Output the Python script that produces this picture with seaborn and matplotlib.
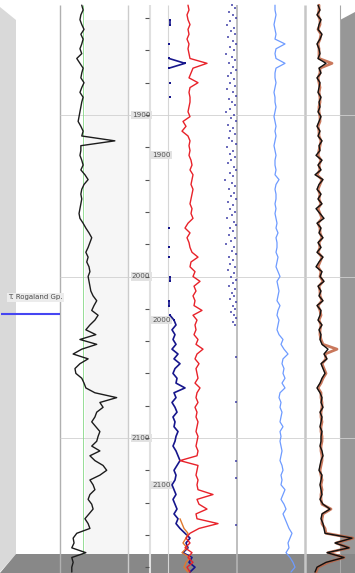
import numpy as np
import pandas as pd
import matplotlib
matplotlib.use("Agg")
import matplotlib.pyplot as plt
from matplotlib.patches import Polygon, Rectangle
import seaborn as sns

sns.set_style("white")
plt.rcParams["font.family"] = ["Liberation Sans Narrow", "DejaVu Sans"]

# ---------------- data ----------------
DEPTH = np.arange(1832, 2184, 3)          # measured depth (m)

GR = [48, 51, 46, 44, 48, 53, 46, 51, 48, 44,
      48, 37, 44, 51, 48, 46, 53, 48, 44, 51,
      48, 46, 44, 42, 40, 46, 51, 48, 121, 46,
      46, 44, 48, 51, 46, 55, 62, 53, 48, 46,
      48, 46, 44, 42, 44, 51, 57, 64, 70, 66,
      62, 57, 62, 59, 64, 66, 62, 64, 66, 68,
      73, 81, 75, 70, 84, 77, 66, 57, 79, 44,
      81, 48, 29, 62, 44, 33, 35, 48, 53, 57,
      77, 125, 88, 95, 81, 77, 70, 79, 88, 84,
      81, 70, 88, 66, 77, 95, 103, 88, 66, 73,
      77, 66, 62, 70, 73, 64, 55, 62, 66, 37,
      29, 31, 26, 57, 26, 29, 26, 26]
GR_BASE = 50

nan = np.nan
NEU = [nan, nan, nan, .10, .10, nan, nan, nan, .09, nan,
       nan, .09, .25, .09, nan, nan, .10, nan, nan, .10,
       nan, nan, nan, nan, nan, nan, nan, nan, nan, nan,
       nan, nan, nan, nan, nan, nan, nan, nan, nan, nan,
       nan, nan, nan, nan, nan, nan, .09, nan, nan, nan,
       .09, nan, .09, nan, nan, nan, .10, .10, nan, nan,
       nan, .09, .09, nan, .10, .14, .16, .12, .15, .13,
       .16, .12, .18, .14, .20, .15, .13, .17, .16, .25,
       .14, .16, .12, .15, .17, .13, .15, .14, .18, .16,
       .15, .13, .16, .18, .20, .17, .14, .16, .15, .12,
       .14, .16, .13, .15, .17, .14, .18, .16, .20, .25,
       .30, .26, .28, .23, .32, .29, .35, .30]

PEF_DEPTH = DEPTH[106:]
PEF = [.20, .22, .24, .28, .26, .23, .27, .22, .30, .26, .24, .28]

DTC = [56, 58, 54, 56, 60, 56, 58, 54, 58, 56,
       58, 60, 94, 66, 62, 58, 76, 60, 58, 60,
       60, 58, 56, 60, 46, 52, 44, 56, 60, 58,
       60, 58, 62, 64, 60, 66, 64, 62, 66, 64,
       62, 60, 64, 62, 66, 56, 50, 60, 54, 58,
       60, 64, 76, 62, 60, 70, 66, 80, 68, 72,
       66, 70, 68, 84, 66, 74, 70, 72, 68, 76,
       72, 86, 74, 70, 78, 72, 74, 76, 70, 80,
       74, 72, 76, 70, 74, 72, 76, 74, 72, 76,
       74, 72, 76, 74, 40, 76, 74, 72, 76, 74,
       76, 106, 74, 78, 94, 72, 74, 116, 78, 60,
       52, 60, 50, 64, 56, 66, 54, 60]

DTS_DEPTH = np.arange(1832, 2032, 2)
DTS = [.72, .75, .69, .73, .76, .70, .67, .74, .71, .75,
       .68, .73, .76, .70, .74, .66, .72, .75, .69, .73,
       .76, .71, .68, .74, .70, .75, .67, .73, .76, .69,
       .72, .75, .70, .66, .74, .71, .76, .68, .73, .70,
       .75, .69, .72, .76, .67, .73, .70, .75, .71, .68,
       .74, .76, .70, .73, .65, .72, .75, .69, .74, .71,
       .76, .68, .73, .70, .75, .72, .67, .74, .76, .70,
       .73, .69, .75, .71, .66, .74, .72, .76, .69, .73,
       .70, .75, .68, .74, .71, .76, .73, .69, .75, .72,
       .74, .70, .76, .73, .75, .71, .74, .76, .73, .75]
DTS_LOW_DEPTH = [2050, 2078, 2114, 2125, 2154]
DTS_LOW = [.76, .76, .76, .76, .76]

CALI = [9.5, 9.5, 9.75, 9.5, 9.25, 9.5, 9.75, 9.5, 12, 9.75,
        9.5, 9.75, 12, 9.75, 9.5, 9.5, 9.75, 9.5, 9.25, 9.5,
        9.5, 9.75, 9.5, 9.25, 9.5, 9.75, 9.5, 9.75, 9.5, 9.25,
        9.5, 9.75, 9.5, 9.5, 9.75, 9.5, 10.5, 9.75, 9.5, 9.75,
        9.75, 9.5, 9.75, 9.5, 9.75, 10, 9.75, 10.25, 9.75, 10,
        10, 9.75, 10.25, 10, 9.75, 10.25, 10.75, 10, 10.25, 10.5,
        10.25, 10, 10.75, 10.25, 10, 10.5, 10.25, 10, 10.5, 11.5,
        11, 11.75, 12.75, 11.5, 11.25, 11.75, 11.5, 12, 11.25, 12,
        10.75, 10.5, 11, 10.75, 11.25, 11, 10.75, 11.5, 10.75, 11,
        10.75, 11, 11.25, 11, 10.75, 11.25, 11.5, 11, 11.25, 11,
        12, 11.5, 11, 11.75, 12.25, 11.5, 12, 12.5, 13, 13.75,
        13.25, 12.75, 13, 12.25, 13.25, 14, 14.5, 13.5]

RDEEP = [6.5, 7.5, 6, 8, 7, 6.5, 8.5, 7.5, 6, 7,
         7.5, 6.5, 10.5, 7, 8, 6, 7.5, 7, 6.5, 8,
         7, 7.5, 6.5, 8, 7, 6, 7.5, 6.5, 8.5, 7,
         7.5, 5.5, 8.5, 6.5, 8, 5, 9, 7, 6, 8,
         6.5, 8.5, 5.5, 7.5, 9.5, 6, 8, 7, 9, 6.5,
         8, 6, 9, 7, 5.5, 8.5, 7.5, 9.5, 6.5, 8,
         7, 9, 6, 8, 7.5, 6.5, 8.5, 7, 8, 7.5,
         8.5, 11.5, 9.5, 11, 8, 9, 10, 8.5, 7.5, 6,
         7.5, 8.5, 8, 9, 7.5, 8.5, 8, 7.5, 8.5, 8,
         8, 7.5, 8.5, 9, 8, 7.5, 7, 8.5, 8, 7.5,
         8, 8.5, 7.5, 9, 12.5, 8.5, 8, 9, 9.5, 10,
         23.5, 15, 22, 11, 19.5, 10.5, 6, 5]

RMED = [7, 7, 6.5, 7.5, 7.5, 6.5, 8, 7.5, 6.5, 7,
        7, 7, 13.5, 7.5, 7.5, 6.5, 7, 7.5, 7, 7.5,
        7.5, 7, 7, 7.5, 7.5, 6.5, 7, 7, 8, 7.5,
        7, 6.5, 8, 7, 7.5, 6, 8.5, 7.5, 6.5, 7.5,
        7, 8, 6.5, 7.5, 8.5, 6.5, 7.5, 7.5, 8.5, 7,
        7.5, 6.5, 8.5, 7.5, 6.5, 8, 7.5, 9, 7, 7.5,
        7.5, 8.5, 6.5, 7.5, 8, 7, 8, 7.5, 7.5, 8,
        9, 16, 10, 10.5, 8.5, 9.5, 10.5, 9, 8, 6.5,
        8, 8, 8.5, 8.5, 8, 8, 8.5, 8, 8, 8.5,
        8.5, 8, 8, 8.5, 8.5, 8, 7.5, 8, 8.5, 8,
        8.5, 8, 8, 8.5, 13, 9, 8.5, 8.5, 10, 10.5,
        24, 15.5, 22, 11.5, 19.5, 11.5, 6.5, 5.5]

TICKS = list(range(1840, 2181, 20))
MD_LABELS = [1900, 2000, 2100]
TVD_LABELS = [1900, 2000, 2100]
FORMATION_TOP = 2023
FORMATION_NAME = "T. Rogaland Gp."

# ---------------- layout ----------------
W, H = 355, 573
MD_TOP = 1900 - 115 / 1.615
MD_BOT = 1900 + (H - 115) / 1.615
TVD_TOP = 1900 - 155 / 1.65
TVD_BOT = 1900 + (H - 155) / 1.65

fig = plt.figure(figsize=(W / 100, H / 100), dpi=100)
fig.patch.set_facecolor("white")


def px_axes(x0, x1):
    return fig.add_axes([x0 / W, 0, (x1 - x0) / W, 1])


bg = fig.add_axes([0, 0, 1, 1])
bg.set_xlim(0, W)
bg.set_ylim(H, 0)
bg.axis("off")
bg.add_patch(Polygon([(0, 7), (16, 20), (16, 554), (0, 572)], fc="#d9d9d9", ec="none"))
bg.add_patch(Polygon([(340, 20), (355, 12), (355, 573), (340, 573)], fc="#979797", ec="none"))
bg.add_patch(Polygon([(0, 573), (16, 554), (355, 554), (355, 573)], fc="#888888", ec="none"))
bg.add_patch(Rectangle((85, 20), 43, 534, fc="#f6f6f6", ec="none"))
for x, c, lw in [(60, "#b0b0b0", 1.0), (128, "#cccccc", 1.0), (150, "#e0e0e0", 1.5),
                 (168, "#d6d6d6", 0.8), (237, "#b4b4b4", 1.2), (305, "#c6c6c6", 1.8),
                 (340, "#a8a8a8", 0.8)]:
    bg.vlines(x, 5, 573, color=c, lw=lw)

dax = fig.add_axes([0, 0, 1, 1])
dax.set_xlim(0, W)
dax.set_ylim(MD_BOT, MD_TOP)
dax.axis("off")
for d in MD_LABELS:
    dax.hlines(d, 60, 355, color="#d0d0d0", lw=0.6)
dax.hlines(FORMATION_TOP, 1, 60, color="#4646f2", lw=1.5)
dax.text(8, FORMATION_TOP - 10, FORMATION_NAME, fontsize=5, color="#4a4a4a",
         va="center", ha="left",
         bbox=dict(boxstyle="square,pad=0.2", fc="#ececec", ec="none"))

label_box = dict(boxstyle="square,pad=0.15", fc="#e2e2e2", ec="none")

t1 = px_axes(128, 150)
t1.set_xlim(0, 1)
t1.set_ylim(MD_BOT, MD_TOP)
t1.patch.set_visible(False)
for s in t1.spines.values():
    s.set_visible(False)
t1.set_xticks([])
t1.set_yticks(TICKS)
t1.tick_params(axis="y", direction="in", length=3, width=0.8, colors="#555555", labelleft=False)
for d in MD_LABELS:
    t1.text(0.18, d, str(d), fontsize=5.2, color="#555555", va="center", ha="left", bbox=label_box)

t2 = px_axes(145, 170)
t2.set_xlim(0, 1)
t2.set_ylim(MD_BOT, MD_TOP)
t2.patch.set_visible(False)
for s in t2.spines.values():
    s.set_visible(False)
t2.set_xticks([])
t2.set_yticks(TICKS)
t2.tick_params(axis="y", direction="in", length=3, width=0.8, colors="#555555", labelleft=False)
tvd = t2.twinx()
tvd.set_ylim(TVD_BOT, TVD_TOP)
tvd.axis("off")
for d in TVD_LABELS:
    tvd.text(0.3, d, str(d), fontsize=5.2, color="#555555", va="center", ha="left", bbox=label_box)

# ---- track 1: GR ----
gax = px_axes(60, 128)
gax.vlines(GR_BASE, 1832, 2172, color="#86d886", lw=0.6)
sns.lineplot(x=GR, y=DEPTH, orient="y", sort=False, estimator=None,
             color="#1c1c1c", lw=1.0, ax=gax)
gax.set_xlim(0, 150)
gax.set_ylim(MD_BOT, MD_TOP)
gax.axis("off")

# ---- track 2: neutron-like (navy), DTS dots, DTC (red) ----
nax = px_axes(160, 237)
neu = np.array(NEU, dtype=float)
valid = ~np.isnan(neu)
seg = np.cumsum(~valid)
ndf = pd.DataFrame({"depth": DEPTH[valid], "val": neu[valid], "seg": seg[valid]})
sns.lineplot(data=ndf, x="val", y="depth", units="seg", estimator=None, sort=False,
             orient="y", color="#16168c", lw=1.2, ax=nax)
sparse = ndf[ndf["depth"] < 2028]
sns.scatterplot(data=sparse, x="val", y="depth", marker="s", s=4, color="#16168c",
                linewidth=0, ax=nax)
sns.lineplot(x=PEF, y=PEF_DEPTH, orient="y", sort=False, estimator=None,
             color="#e0782e", lw=1.0, ax=nax)
sns.scatterplot(x=DTS, y=DTS_DEPTH, marker="s", s=4, color="#2f2fa0", alpha=0.7,
                linewidth=0, ax=nax)
sns.scatterplot(x=DTS_LOW, y=DTS_LOW_DEPTH, marker="s", s=3, color="#2f2fa0", alpha=0.7,
                linewidth=0, ax=nax)
nax.set_xlim(0, 0.77)
nax.set_ylim(MD_BOT, MD_TOP)
nax.axis("off")

rax = px_axes(160, 237)
sns.lineplot(x=DTC, y=DEPTH, orient="y", sort=False, estimator=None,
             color="#e8222a", lw=1.0, ax=rax)
rax.set_xlim(0, 154)
rax.set_ylim(MD_BOT, MD_TOP)
rax.axis("off")

# ---- track 3: caliper (light blue) ----
cax = px_axes(237, 305)
sns.lineplot(x=CALI, y=DEPTH, orient="y", sort=False, estimator=None,
             color="#6e9bff", lw=0.9, ax=cax)
cax.set_xlim(0, 17)
cax.set_ylim(MD_BOT, MD_TOP)
cax.axis("off")

# ---- track 4: resistivity (brown + black) ----
kax = px_axes(305, 355)
sns.lineplot(x=RMED, y=DEPTH, orient="y", sort=False, estimator=None,
             color="#c0603f", lw=2.0, alpha=0.85, ax=kax)
sns.lineplot(x=RDEEP, y=DEPTH, orient="y", sort=False, estimator=None,
             color="#111111", lw=1.0, ax=kax)
kax.set_xlim(0, 25)
kax.set_ylim(MD_BOT, MD_TOP)
kax.axis("off")

fig.savefig("out.png", dpi=100)
